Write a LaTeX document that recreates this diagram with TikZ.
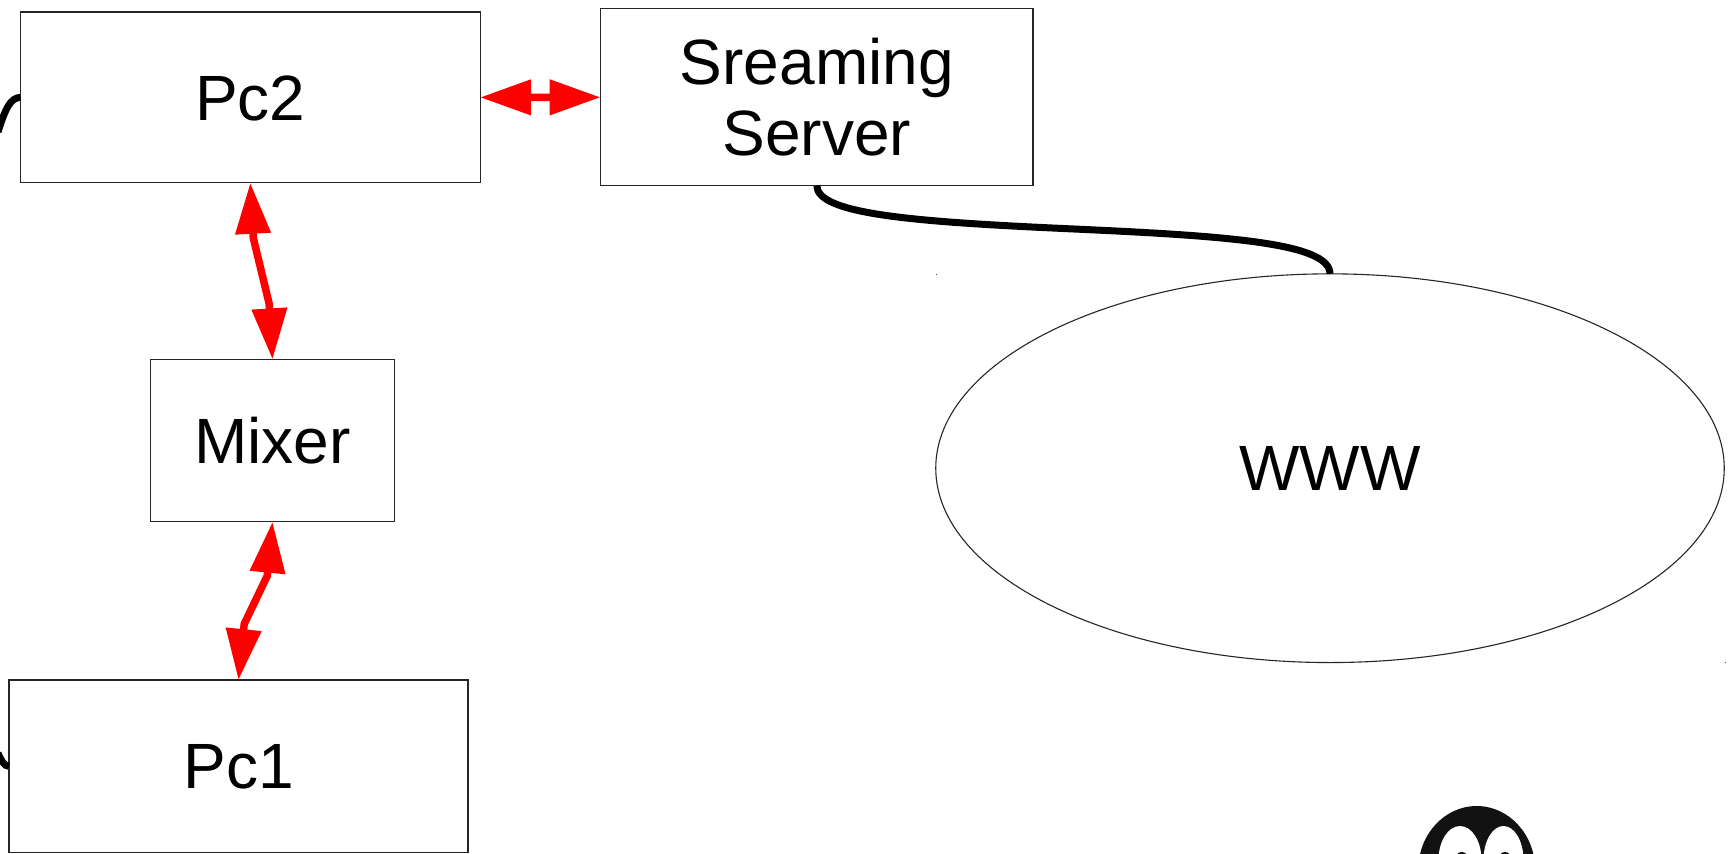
\documentclass[tikz,border=0pt]{standalone}
\usepackage{fontspec}
\setmainfont{Liberation Sans}
\usetikzlibrary{arrows.meta,shapes.geometric}
\tikzset{
  x=1pt,y=-1pt,
  box/.style={draw=black!85,line width=1.1pt,fill=white,rectangle,inner sep=0pt,outer sep=0pt,align=center,
    font=\fontsize{64}{71}\selectfont},
  oneline/.style={text height=#1,text depth=0pt},
  redlink/.style={draw=red,line width=7.5pt,line join=round,{Triangle[length=51pt,width=34pt]}-{Triangle[length=51pt,width=34pt]}},
  cable/.style={draw=black,line width=7pt},
  speck/.style={draw=black!70,line width=0.5pt},
  penguinblack/.style={fill=black!93}
}
\begin{document}
\begin{tikzpicture}
\useasboundingbox (0,0) rectangle (1731,853.6);
\clip (0,0) rectangle (1731,853.6);
\fill[white] (0,0) rectangle (1731,853.6);
% penguin
\fill[penguinblack] (1476.7,870) ellipse [x radius=58.5,y radius=64];
\fill[white] (1460,860) ellipse [x radius=21.5,y radius=34];
\fill[white] (1503.5,860) ellipse [x radius=20,y radius=34];
\fill[penguinblack] (1461.7,858) ellipse [x radius=6,y radius=6];
\fill[penguinblack] (1505,858) ellipse [x radius=6,y radius=6];
% boxes
\node[box,oneline=45.2pt,minimum width=459.5pt,minimum height=170.7pt] (pc2) at (250.3,97.4) {Pc2};
\node[box,minimum width=432.4pt,minimum height=176.7pt] (server) at (816.8,97.3)
  {\raisebox{0pt}[44.4pt][0pt]{Sreaming}\\\raisebox{0pt}[0pt][0pt]{Server}};
\node[box,oneline=46pt,minimum width=244.5pt,minimum height=162.4pt] (mixer) at (272.5,440.6) {Mixer};
\node[box,oneline=45pt,minimum width=459pt,minimum height=172.6pt] (pc1) at (238.5,766.3) {Pc1};
\node[box,ellipse,oneline=43.6pt,minimum width=788.5pt,minimum height=388.7pt] (www) at (1330,468.2) {WWW};
% free ends of cables and bends of the red links
\coordinate (pc2end) at (-2,132);
\coordinate (pc1end) at (-2,753);
\coordinate (pm1) at (253.3,238);
\coordinate (pm2) at (269.1,303.5);
\coordinate (mp1) at (267.2,576);
\coordinate (mp2) at (244.2,624);
% connectors
\draw[redlink] (pc2.east) -- (server.west);
\draw[redlink] (pc2.south) -- (pm1) -- (pm2) -- (mixer.north);
\draw[redlink] (mixer.south) -- (mp1) -- (mp2) -- (pc1.north);
\draw[cable] (server.south) .. controls (817,215) and (920,222) .. (1074,229)
   .. controls (1228,236) and (1330,243) .. (www.north);
\draw[cable] (pc2end) .. controls (5,110) and (10,97.4) .. (pc2.west);
\draw[cable] (pc1end) .. controls (1,760) and (4,766.3) .. (pc1.west);
% specks
\draw[speck] (936,273.5) -- (936,274.5);
\draw[speck] (1724.6,662) -- (1725.6,662);
\end{tikzpicture}
\end{document}
